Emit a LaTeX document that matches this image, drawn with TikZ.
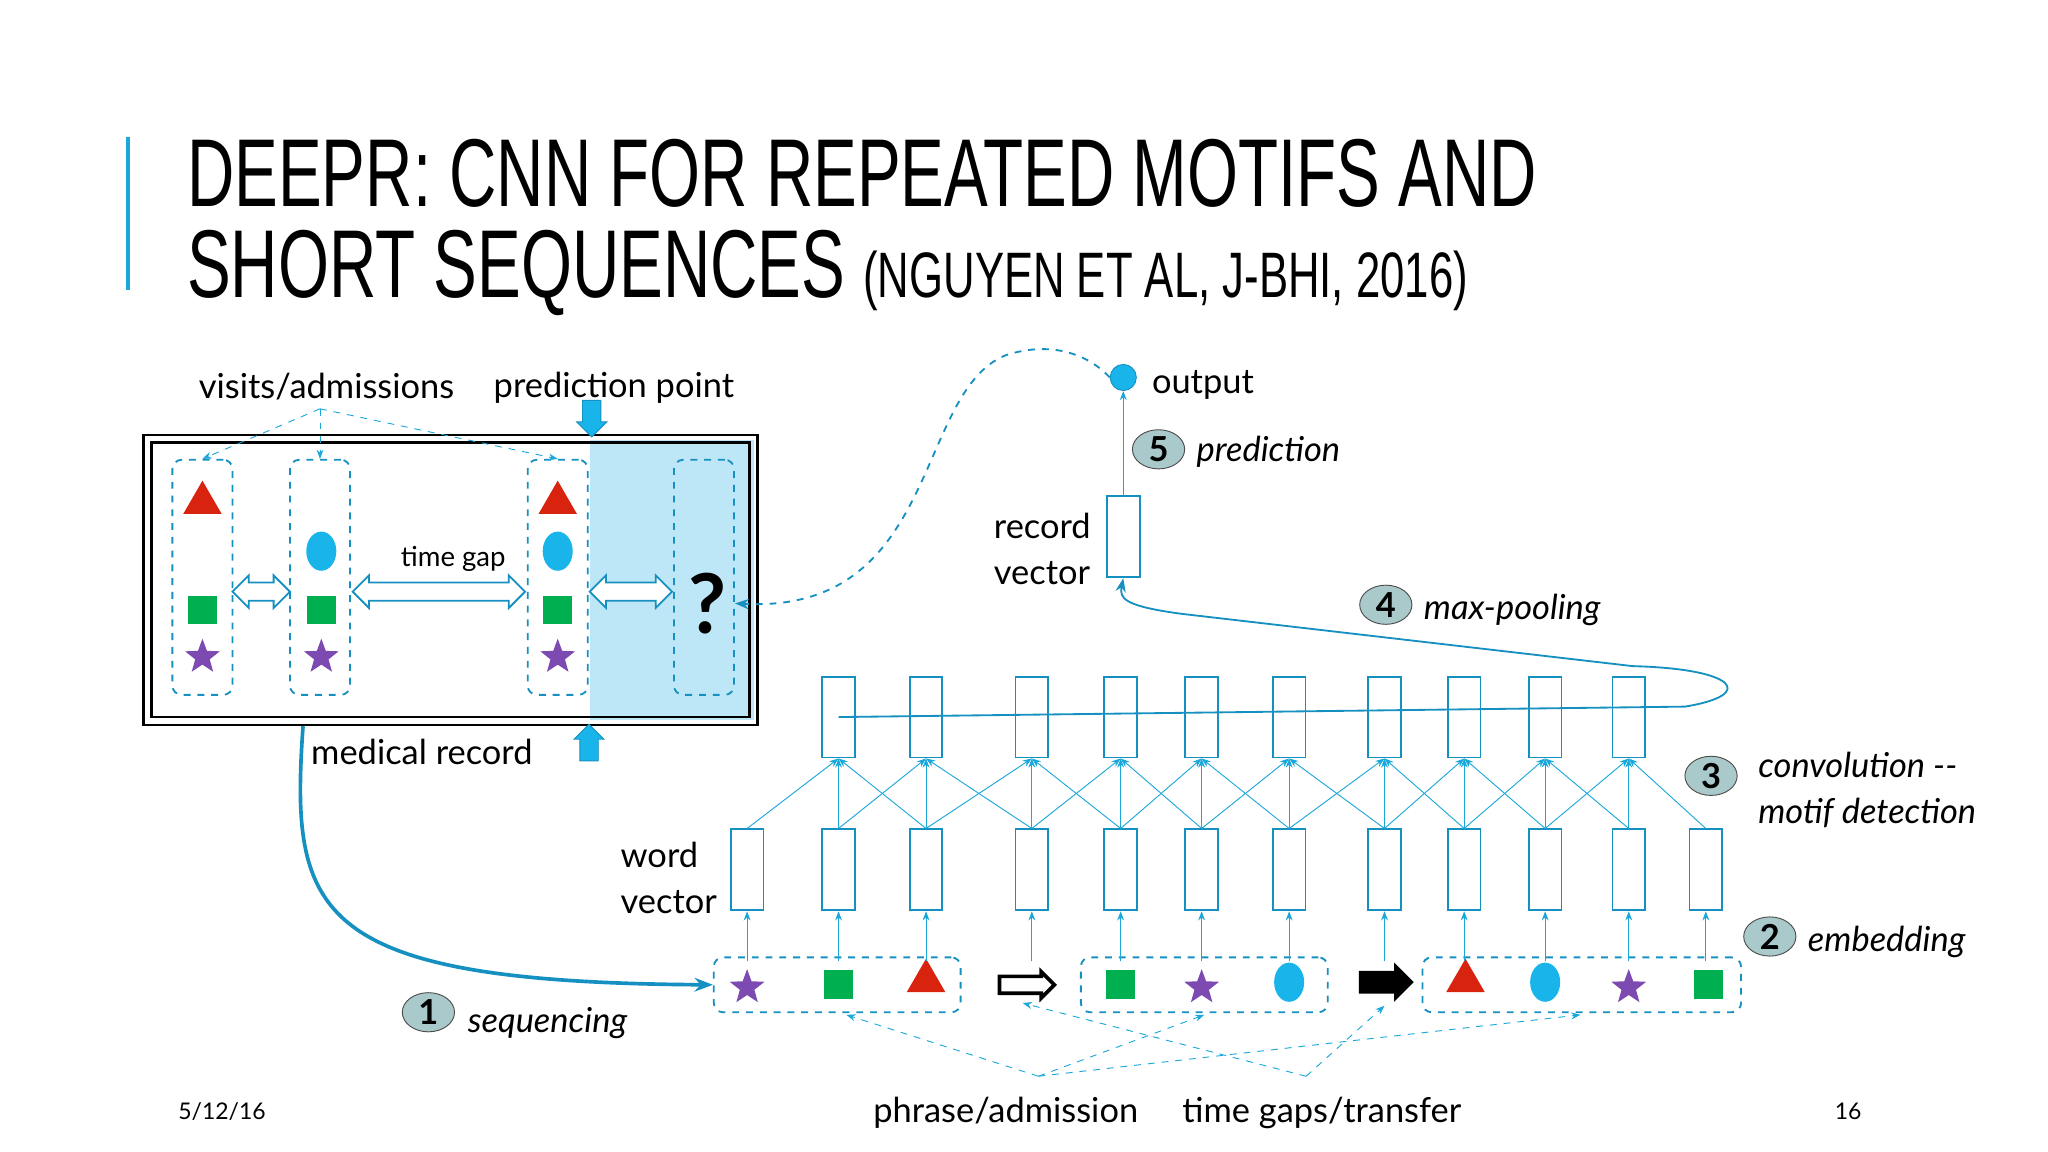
\documentclass[tikz,border=0pt]{standalone}
\usepackage{fontspec}
\setmainfont{Lato}
\newfontfamily\titlefont[FakeStretch=0.68]{Liberation Sans}
\usetikzlibrary{shapes.geometric,shapes.arrows,arrows.meta}
\definecolor{cyanline}{HTML}{1AA7DA}
\definecolor{boxblue}{HTML}{1590C0}
\definecolor{shadefill}{HTML}{BDE6F6}
\definecolor{tri}{HTML}{D8230F}
\definecolor{sq}{HTML}{00B050}
\definecolor{st}{HTML}{7D4AB2}
\definecolor{ci}{HTML}{19B5EA}
\definecolor{badgefill}{HTML}{A9C9CB}
\begin{document}
\begin{tikzpicture}[x=0.02cm, y=-0.02cm, font=\fontsize{15}{18}\selectfont]
% Define styles
\tikzstyle{vec} = [rectangle, draw=boxblue, thick, minimum width=0.5cm, minimum height=1.24cm, inner sep=0pt]
\tikzstyle{col} = [rectangle, draw=boxblue, dashed, thick, rounded corners=4pt, minimum width=0.92cm, minimum height=3.6cm]
\tikzstyle{seq} = [rectangle, draw=boxblue, dashed, thick, rounded corners=4pt, minimum height=0.84cm]
\tikzstyle{link} = [cyanline, -{Stealth[length=4pt]}]
\tikzstyle{hint} = [cyanline, dashed, -{Stealth[length=4pt]}]
\tikzstyle{badge} = [ellipse, draw=black!70, fill=badgefill, minimum width=0.8cm, minimum height=0.6cm, inner sep=0pt, font=\fontsize{15}{18}\selectfont\bfseries]
\tikzstyle{gap} = [double arrow, draw=boxblue, thick, fill=white, inner sep=2.5pt, minimum width=0.5cm, double arrow head extend=0.08cm]
\tikzstyle{tri} = [regular polygon, regular polygon sides=3, fill=tri, minimum size=0.68cm, inner sep=0pt]
\tikzstyle{sq} = [rectangle, fill=sq, minimum size=0.44cm, inner sep=0pt]
\tikzstyle{st} = [star, star points=5, star point ratio=2.4, fill=st, minimum size=0.56cm, inner sep=0pt]
\tikzstyle{ci} = [ellipse, fill=ci, minimum width=0.46cm, minimum height=0.6cm, inner sep=0pt]
\tikzstyle{fat} = [single arrow, fill=ci, draw=boxblue, inner sep=2.5pt, minimum width=0.46cm, single arrow head extend=0.06cm, minimum height=0.56cm]

\useasboundingbox (0,0) rectangle (1568,882);

% Title
\draw[cyanline, line width=1.5pt] (98,105) -- (98,222);
\node[anchor=base west, inner sep=0pt, font=\titlefont\fontsize{42}{46}\selectfont] (t1) at (143,158) {DEEPR: CNN FOR REPEATED MOTIFS AND};
\node[anchor=base west, inner sep=0pt, font=\titlefont\fontsize{42}{46}\selectfont] (t2) at (143,228) {SHORT SEQUENCES \fontsize{28}{30}\selectfont(NGUYEN ET AL, J-BHI, 2016)};

% Medical record
\fill[shadefill] (452,337) rectangle (577,551);
\draw[line width=1.2pt] (110,333) rectangle (580,555);
\draw[line width=1.2pt] (116,339) rectangle (574,549);
\node[col] (v1) at (155,442) {};
\node[col] (v2) at (245,442) {};
\node[col] (v3) at (427,442) {};
\node[col] (v4) at (539,442) {};
\node[tri] at (155,385) {};
\node[sq] at (155,467) {};
\node[st] at (155,503) {};
\node[ci] at (246,422) {};
\node[sq] at (246,467) {};
\node[st] at (246,503) {};
\node[tri] at (427,385) {};
\node[ci] at (427,422) {};
\node[sq] at (427,467) {};
\node[st] at (427,503) {};
\node[font=\fontsize{36}{40}\selectfont\bfseries] (q) at (542,462) {?};
\node[gap, minimum height=0.88cm] (g1) at (200,453) {};
\node[gap, minimum height=2.64cm] (g2) at (336,453) {};
\node[gap, minimum height=1.26cm] (g3) at (483,453) {};
\node[font=\fontsize{12}{14}\selectfont] (tg) at (347,428) {time gap};
\node (visits) at (250,296) {visits/admissions};
\node (pp) at (470,297) {prediction point};
\node (mr) at (323,576) {medical record};
\node[fat, rotate=-90] (pdown) at (453,317) {};
\node[fat, rotate=90] (pup) at (451,572) {};
\coordinate (vs) at (245,313);
\draw[hint] (vs) -- (v1.north);
\draw[hint] (vs) -- (v2.north);
\draw[hint] (vs) -- (v3.north);

% Word vectors and convolution
\foreach \x [count=\i] in {572,642,709,790,858,920,987,1060,1121,1183,1247,1306}
  \node[vec] (w\i) at (\x,666) {};
\foreach \x [count=\i] in {642,709,790,858,920,987,1060,1121,1183,1247}
  \node[vec] (c\i) at (\x,549) {};
\foreach \i in {1,...,10}
  \foreach \k in {0,1,2} {
    \pgfmathtruncatemacro\j{\i+\k}
    \draw[link] (w\j.north) -- (c\i.south);
  }
\node[align=left] (wv) at (512,672) {word\\[2pt]vector};

% Sequence
\node[seq, minimum width=3.78cm] (b1) at (641,754) {};
\node[seq, minimum width=3.78cm] (b2) at (922,754) {};
\node[seq, minimum width=4.88cm] (b3) at (1211,754) {};
\node[st] (s1) at (572,756) {};
\node[sq] (s2) at (642,754) {};
\node[tri] (s3) at (709,751) {};
\node[single arrow, draw=black, line width=1.6pt, fill=white, inner sep=1.8pt, minimum width=0.4cm, single arrow head extend=0.05cm, minimum height=0.84cm] (s4) at (783,754) {};
\node[sq] (s5) at (858,754) {};
\node[st] (s6) at (920,756) {};
\node[ci] (s7) at (987,752) {};
\node[single arrow, fill=black, inner sep=3pt, minimum width=0.6cm, single arrow head extend=0.08cm, minimum height=0.84cm] (s8) at (1057,752) {};
\node[tri] (s9) at (1122,751) {};
\node[ci] (s10) at (1183,752) {};
\node[st] (s11) at (1247,756) {};
\node[sq] (s12) at (1308,754) {};
\foreach \i in {1,...,12}
  \draw[link] (w\i.south |- 0,736) -- (w\i.south);

% Record vector and output
\node[vec] (rv) at (860,411) {};
\node[circle, fill=ci, draw=boxblue, minimum size=0.4cm, inner sep=0pt] (out) at (860,289) {};
\draw[link] (rv.north) -- (out.south);
\node (outl) at (921,295) {output};
\node[align=left] (rvl) at (798,420) {record\\[2pt]vector};
\draw[boxblue, thick, -{Stealth[length=6pt]}] (c1.center) -- (1290,541) .. controls (1345,532) and (1330,512) .. (1250,510) -- (905,470) .. controls (860,464) and (857,458) .. (rv.south);
\draw[boxblue, thick, dashed, -{Stealth[length=6pt]}] (out.west) .. controls (830,268) and (800,262) .. (770,272) .. controls (700,300) and (720,470) .. (q.east);

% Steps
\node[badge] (n5) at (887,344) {5};
\node[anchor=west, font=\fontsize{15}{18}\selectfont\itshape] at (910,346) {prediction};
\node[badge] (n4) at (1061,463) {4};
\node[anchor=west, font=\fontsize{15}{18}\selectfont\itshape] at (1084,467) {max-pooling};
\node[badge] (n3) at (1310,594) {3};
\node[anchor=west, align=left, font=\fontsize{15}{18}\selectfont\itshape] at (1340,605) {convolution -{}-\\[2pt]motif detection};
\node[badge] (n2) at (1355,717) {2};
\node[anchor=west, font=\fontsize{15}{18}\selectfont\itshape] at (1378,721) {embedding};
\node[badge] (n1) at (328,775) {1};
\node[anchor=west, font=\fontsize{15}{18}\selectfont\itshape] at (352,783) {sequencing};
\draw[boxblue, line width=1.6pt, -{Stealth[length=8pt]}] (232,556) .. controls (222,700) and (238,752) .. (b1.west);

% Bottom labels
\node (pa) at (770,852) {phrase/admission};
\node (tgl) at (1012,852) {time gaps/transfer};
\coordinate (pa1) at (795,824);
\coordinate (tg1) at (1000,824);
\draw[hint] (pa1) -- (648,777);
\draw[hint] (pa1) -- (922,777);
\draw[hint] (pa1) -- (1210,777);
\draw[hint] (tg1) -- (783,768);
\draw[hint] (tg1) -- (1060,770);
\node[font=\fontsize{10}{12}\selectfont] (date) at (170,851) {5/12/16};
\node[font=\fontsize{10}{12}\selectfont] (page) at (1415,851) {16};
\end{tikzpicture}
\end{document}
